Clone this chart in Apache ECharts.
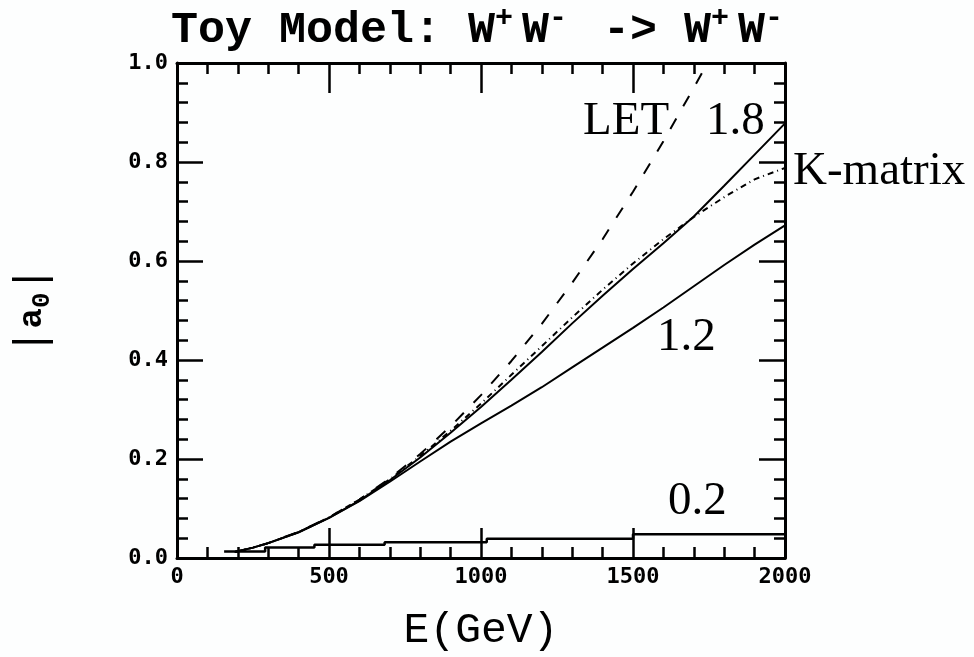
<!DOCTYPE html>
<html>
<head>
<meta charset="utf-8">
<script src="https://cdn.jsdelivr.net/npm/echarts@6/dist/echarts.min.js"></script>
<style>
  html, body { margin: 0; padding: 0; background: #fdfefe; }
  #main { width: 974px; height: 657px; }
</style>
</head>
<body>
<div id="main"></div>
<script>
// energies in GeV
var energies = [190, 250, 300, 400, 500, 600, 700, 800, 900, 1000, 1100, 1200, 1300, 1400, 1500, 1600, 1700, 1800, 1900, 2000];
var letEnergies = [190, 250, 300, 400, 500, 600, 700, 800, 900, 1000, 1100, 1200, 1300, 1400, 1500, 1600, 1700, 1745];
// |a0|
var letValues = [0.012, 0.021, 0.030, 0.053, 0.082, 0.118, 0.161, 0.210, 0.266, 0.329, 0.398, 0.473, 0.556, 0.644, 0.740, 0.842, 0.950, 1.0];
var kMatrixValues = [0.012, 0.021, 0.030, 0.052, 0.082, 0.118, 0.159, 0.206, 0.257, 0.312, 0.370, 0.428, 0.486, 0.542, 0.595, 0.644, 0.689, 0.729, 0.765, 0.788];
var values18 = [0.012, 0.021, 0.030, 0.052, 0.081, 0.116, 0.157, 0.203, 0.253, 0.305, 0.360, 0.416, 0.474, 0.530, 0.584, 0.636, 0.690, 0.752, 0.815, 0.878];
var values12 = [0.012, 0.021, 0.030, 0.052, 0.081, 0.115, 0.154, 0.195, 0.235, 0.272, 0.308, 0.345, 0.385, 0.425, 0.465, 0.506, 0.549, 0.592, 0.633, 0.672];
// 0.2 curve is drawn as steps
var stepEnergies = [155, 290, 452, 683, 1019, 1500, 2000];
var stepValues = [0.013, 0.021, 0.027, 0.032, 0.039, 0.048, 0.048];

var xTicks = [0, 500, 1000, 1500, 2000];
var yTicks = [0.0, 0.2, 0.4, 0.6, 0.8, 1.0];

function pairs(xs, ys) {
  var out = [];
  for (var i = 0; i < xs.length; i++) out.push([xs[i], ys[i]]);
  return out;
}

var myChart = echarts.init(document.getElementById('main'));

var tickFont = { fontFamily: 'DejaVu Sans Mono', fontWeight: 'bold', fontSize: 22, color: '#000' };
var frameLine = { color: '#000', width: 3 };

function xAxisDef(pos, showLabel) {
  return {
    type: 'value', min: xTicks[0], max: xTicks[xTicks.length - 1], interval: 500,
    position: pos,
    axisLine: { onZero: false, lineStyle: frameLine },
    axisTick: { inside: true, length: 30, lineStyle: { color: '#000', width: 2.5 } },
    minorTick: { show: true, splitNumber: 5, length: 11, lineStyle: { color: '#000', width: 2.5 } },
    splitLine: { show: false },
    axisLabel: Object.assign({ show: showLabel, margin: 8, formatter: function (v) { return String(v); } }, tickFont)
  };
}
function yAxisDef(pos, showLabel) {
  return {
    type: 'value', min: yTicks[0], max: yTicks[yTicks.length - 1], interval: 0.2,
    position: pos,
    axisLine: { onZero: false, lineStyle: frameLine },
    axisTick: { inside: true, length: 26, lineStyle: { color: '#000', width: 2.5 } },
    minorTick: { show: true, splitNumber: 5, length: 11, lineStyle: { color: '#000', width: 2.5 } },
    splitLine: { show: false },
    axisLabel: Object.assign({ show: showLabel, margin: 9, formatter: function (v) { return v.toFixed(1); } }, tickFont)
  };
}

var xBottom = xAxisDef('bottom', true);
xBottom.name = 'E(GeV)';
xBottom.nameLocation = 'middle';
xBottom.nameGap = 51;
xBottom.nameTextStyle = { fontFamily: 'Liberation Mono', fontSize: 43, color: '#000' };

var yLeft = yAxisDef('left', true);
yLeft.name = '{b||}{a|a}{s|0}{b||}';
yLeft.nameLocation = 'middle';
yLeft.nameRotate = 90;
yLeft.nameGap = 122;
yLeft.nameTextStyle = {
  color: '#000',
  rich: {
    b: { fontFamily: 'Liberation Mono', fontSize: 44, lineHeight: 46, color: '#000', verticalAlign: 'middle' },
    a: { fontFamily: 'Liberation Mono', fontWeight: 'bold', fontSize: 34, lineHeight: 46, color: '#000', verticalAlign: 'middle' },
    s: { fontFamily: 'Liberation Mono', fontWeight: 'bold', fontSize: 26, lineHeight: 22, color: '#000', verticalAlign: 'bottom' }
  }
};

var labelFont = { fontFamily: 'Liberation Serif', fontSize: 47, fill: '#000' };
function note(text, left, top) {
  return { type: 'text', left: left, top: top, style: Object.assign({ text: text }, labelFont) };
}

var supStyle = { fontFamily: 'Liberation Mono', fontWeight: 'bold', fontSize: 30, color: '#000', verticalAlign: 'top', lineHeight: 46, width: 27 };

var option = {
  backgroundColor: '#fdfefe',
  animation: false,
  title: {
    text: '{n|Toy Model: W}{s|+}{n|W}{s|-}{n| -> W}{s|+}{n|W}{s|-}',
    left: 166, top: -2,
    textStyle: {
      rich: {
        n: { fontFamily: 'Liberation Mono', fontWeight: 'bold', fontSize: 45, color: '#000', lineHeight: 50, verticalAlign: 'bottom' },
        s: supStyle
      }
    }
  },
  grid: { left: 177, right: 189, top: 63, bottom: 96 },
  xAxis: [xBottom, xAxisDef('top', false)],
  yAxis: [yLeft, yAxisDef('right', false)],
  series: [
    {
      name: 'LET', type: 'line', showSymbol: false, silent: true,
      data: pairs(letEnergies, letValues),
      lineStyle: { color: '#000', width: 2, type: [12, 14] }
    },
    {
      name: 'K-matrix', type: 'line', showSymbol: false, silent: true,
      data: pairs(energies, kMatrixValues),
      lineStyle: { color: '#000', width: 2, type: [6, 4, 1, 4] }
    },
    {
      name: '1.8', type: 'line', showSymbol: false, silent: true,
      data: pairs(energies, values18),
      lineStyle: { color: '#000', width: 2 }
    },
    {
      name: '1.2', type: 'line', showSymbol: false, silent: true,
      data: pairs(energies, values12),
      lineStyle: { color: '#000', width: 2 }
    },
    {
      name: '0.2', type: 'line', showSymbol: false, silent: true, step: 'end',
      data: pairs(stepEnergies, stepValues),
      lineStyle: { color: '#000', width: 2.5 }
    }
  ],
  graphic: [
    note('LET', 583, 98),
    note('1.8', 706, 98),
    note('K-matrix', 793, 148),
    note('1.2', 657, 314),
    note('0.2', 668, 478)
  ]
};
myChart.setOption(option);
</script>
</body>
</html>
